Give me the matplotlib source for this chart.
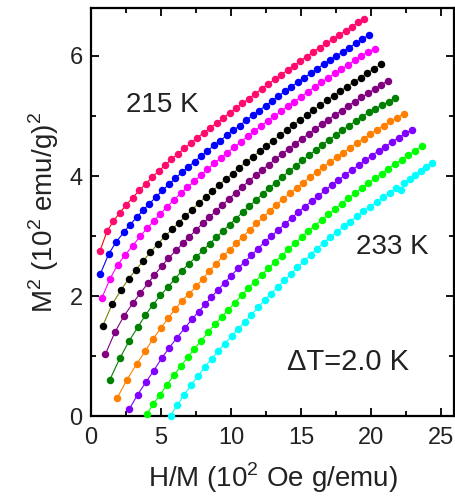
import matplotlib
matplotlib.use("Agg")
import matplotlib.pyplot as plt
from matplotlib.ticker import MultipleLocator

plt.rcParams["font.family"] = ["Liberation Sans", "DejaVu Sans"]
plt.rcParams["mathtext.fontset"] = "custom"
plt.rcParams["mathtext.rm"] = "Liberation Sans"

# Arrott plot isotherms, 215 K to 233 K in 2 K steps
# H/M in 10^2 Oe g/emu, M^2 in (10^2 emu/g)^2
hm_215 = [0.64, 1.14, 1.60, 2.06, 2.52, 2.98, 3.44, 3.90, 4.36, 4.82, 5.28, 5.74, 6.20, 6.66,
          7.12, 7.58, 8.04, 8.50, 8.96, 9.42, 9.88, 10.34, 10.80, 11.26, 11.72, 12.18, 12.64,
          13.10, 13.56, 14.02, 14.48, 14.94, 15.40, 15.86, 16.32, 16.78, 17.24, 17.70, 18.16,
          18.62, 19.08, 19.48]
m2_215 = [2.75, 3.08, 3.25, 3.39, 3.52, 3.64, 3.76, 3.87, 3.98, 4.08, 4.18, 4.28, 4.37, 4.46,
          4.55, 4.64, 4.72, 4.80, 4.88, 4.96, 5.05, 5.13, 5.21, 5.29, 5.37, 5.45, 5.53, 5.61,
          5.69, 5.76, 5.84, 5.92, 5.99, 6.07, 6.14, 6.21, 6.28, 6.35, 6.42, 6.49, 6.56, 6.62]

hm_217 = [0.67, 1.26, 1.79, 2.33, 2.79, 3.25, 3.71, 4.17, 4.63, 5.09, 5.55, 6.01, 6.47, 6.93,
          7.39, 7.85, 8.31, 8.77, 9.23, 9.69, 10.15, 10.61, 11.07, 11.53, 11.99, 12.45, 12.91,
          13.37, 13.83, 14.29, 14.75, 15.21, 15.67, 16.13, 16.59, 17.05, 17.51, 17.97, 18.43,
          18.89, 19.35, 19.81]
m2_217 = [2.37, 2.70, 2.90, 3.06, 3.19, 3.31, 3.43, 3.54, 3.65, 3.76, 3.86, 3.96, 4.06, 4.15,
          4.24, 4.33, 4.42, 4.51, 4.59, 4.68, 4.76, 4.84, 4.93, 5.01, 5.09, 5.17, 5.25, 5.33,
          5.41, 5.49, 5.56, 5.64, 5.71, 5.79, 5.86, 5.93, 6.00, 6.07, 6.14, 6.21, 6.28, 6.35]

hm_219 = [0.76, 1.36, 1.90, 2.45, 2.98, 3.52, 4.00, 4.48, 4.95, 5.43, 5.91, 6.39, 6.87, 7.35,
          7.82, 8.30, 8.78, 9.26, 9.73, 10.21, 10.69, 11.17, 11.65, 12.12, 12.60, 13.08, 13.56,
          14.04, 14.51, 14.99, 15.47, 15.95, 16.43, 16.90, 17.38, 17.86, 18.34, 18.82, 19.29,
          19.77, 20.25]
m2_219 = [1.96, 2.29, 2.52, 2.69, 2.84, 3.00, 3.13, 3.25, 3.37, 3.49, 3.60, 3.71, 3.81, 3.91,
          4.01, 4.11, 4.21, 4.30, 4.39, 4.48, 4.57, 4.66, 4.75, 4.83, 4.92, 5.00, 5.08, 5.16,
          5.24, 5.32, 5.40, 5.48, 5.56, 5.63, 5.71, 5.78, 5.85, 5.93, 6.00, 6.07, 6.12]

hm_221 = [0.83, 1.50, 2.14, 2.69, 3.21, 3.74, 4.24, 4.76, 5.29, 5.77, 6.25, 6.73, 7.21, 7.70,
          8.18, 8.66, 9.14, 9.62, 10.10, 10.58, 11.06, 11.54, 12.02, 12.51, 12.99, 13.47, 13.95,
          14.43, 14.91, 15.39, 15.87, 16.35, 16.83, 17.31, 17.79, 18.28, 18.76, 19.24, 19.72,
          20.20, 20.69]
m2_221 = [1.50, 1.86, 2.10, 2.29, 2.44, 2.59, 2.73, 2.87, 3.00, 3.11, 3.22, 3.33, 3.44, 3.55,
          3.65, 3.75, 3.85, 3.95, 4.04, 4.14, 4.23, 4.32, 4.41, 4.50, 4.59, 4.68, 4.76, 4.85,
          4.93, 5.01, 5.10, 5.18, 5.26, 5.34, 5.42, 5.49, 5.57, 5.64, 5.72, 5.79, 5.86]

hm_223 = [1.02, 1.71, 2.33, 2.98, 3.52, 4.05, 4.52, 5.05, 5.52, 6.07, 6.55, 7.02, 7.49, 7.96,
          8.44, 8.91, 9.38, 9.85, 10.32, 10.80, 11.27, 11.74, 12.21, 12.68, 13.16, 13.63, 14.10,
          14.57, 15.04, 15.52, 15.99, 16.46, 16.93, 17.40, 17.88, 18.35, 18.82, 19.29, 19.76,
          20.24, 20.71, 21.19]
m2_223 = [1.03, 1.40, 1.66, 1.88, 2.05, 2.21, 2.35, 2.50, 2.63, 2.76, 2.88, 2.99, 3.10, 3.21,
          3.31, 3.42, 3.52, 3.62, 3.72, 3.82, 3.92, 4.01, 4.10, 4.19, 4.28, 4.37, 4.45, 4.54,
          4.62, 4.70, 4.78, 4.86, 4.94, 5.02, 5.09, 5.17, 5.24, 5.31, 5.38, 5.45, 5.52, 5.59]

hm_225 = [1.33, 2.07, 2.74, 3.33, 3.88, 4.40, 4.95, 5.48, 6.00, 6.48, 6.98, 7.50, 7.98, 8.46,
          8.93, 9.40, 9.88, 10.35, 10.82, 11.30, 11.77, 12.24, 12.72, 13.19, 13.66, 14.14, 14.61,
          15.08, 15.56, 16.03, 16.50, 16.98, 17.45, 17.92, 18.40, 18.87, 19.34, 19.82, 20.29,
          20.76, 21.24, 21.71]
m2_225 = [0.60, 0.97, 1.26, 1.48, 1.68, 1.85, 2.01, 2.15, 2.29, 2.42, 2.54, 2.65, 2.76, 2.87,
          2.98, 3.08, 3.19, 3.29, 3.40, 3.50, 3.60, 3.70, 3.80, 3.89, 3.99, 4.08, 4.17, 4.26,
          4.35, 4.43, 4.52, 4.60, 4.68, 4.76, 4.84, 4.91, 4.99, 5.06, 5.12, 5.18, 5.24, 5.30]

hm_227 = [1.86, 2.57, 3.26, 3.86, 4.43, 5.00, 5.52, 6.00, 6.48, 7.02, 7.50, 7.98, 8.45, 8.93,
          9.41, 9.88, 10.36, 10.84, 11.32, 11.80, 12.27, 12.75, 13.23, 13.71, 14.19, 14.66, 15.14,
          15.62, 16.10, 16.58, 17.05, 17.53, 18.01, 18.49, 18.97, 19.44, 19.92, 20.40, 20.88,
          21.36, 21.83, 22.31]
m2_227 = [0.30, 0.61, 0.87, 1.08, 1.29, 1.47, 1.64, 1.78, 1.92, 2.04, 2.16, 2.29, 2.42, 2.54,
          2.66, 2.77, 2.88, 2.99, 3.10, 3.21, 3.31, 3.42, 3.52, 3.62, 3.71, 3.80, 3.89, 3.98,
          4.07, 4.15, 4.23, 4.31, 4.39, 4.47, 4.55, 4.62, 4.70, 4.77, 4.84, 4.91, 4.97, 5.04]

hm_229 = [2.74, 3.33, 3.93, 4.48, 5.05, 5.59, 6.14, 6.67, 7.19, 7.67, 8.14, 8.57, 9.05, 9.53,
          10.00, 10.48, 10.96, 11.44, 11.92, 12.39, 12.87, 13.35, 13.83, 14.31, 14.78, 15.26,
          15.74, 16.22, 16.70, 17.17, 17.65, 18.13, 18.61, 19.09, 19.56, 20.04, 20.52, 21.00,
          21.48, 21.95, 22.43, 22.91]
m2_229 = [0.12, 0.36, 0.57, 0.76, 0.97, 1.14, 1.31, 1.46, 1.61, 1.74, 1.86, 1.98, 2.10, 2.22,
          2.34, 2.46, 2.57, 2.68, 2.79, 2.90, 3.00, 3.10, 3.20, 3.30, 3.40, 3.49, 3.58, 3.67,
          3.76, 3.85, 3.93, 4.02, 4.10, 4.18, 4.26, 4.34, 4.42, 4.49, 4.57, 4.64, 4.71, 4.77]

hm_231 = [3.98, 4.45, 4.93, 5.42, 5.91, 6.40, 6.89, 7.38, 7.87, 8.36, 8.84, 9.31, 9.79, 10.26,
          10.74, 11.22, 11.69, 12.17, 12.64, 13.12, 13.60, 14.07, 14.55, 15.02, 15.50, 15.98,
          16.45, 16.93, 17.40, 17.88, 18.36, 18.83, 19.31, 19.78, 20.26, 20.74, 21.21, 21.69,
          22.16, 22.64, 23.12, 23.59]
m2_231 = [0.04, 0.20, 0.36, 0.52, 0.68, 0.83, 0.98, 1.12, 1.26, 1.40, 1.53, 1.65, 1.77, 1.89,
          2.01, 2.13, 2.24, 2.35, 2.46, 2.57, 2.67, 2.78, 2.88, 2.98, 3.08, 3.17, 3.27, 3.36,
          3.45, 3.54, 3.63, 3.71, 3.80, 3.88, 3.96, 4.04, 4.12, 4.20, 4.27, 4.35, 4.42, 4.50]

hm_233 = [5.68, 6.17, 6.66, 7.15, 7.64, 8.13, 8.62, 9.09, 9.56, 10.03, 10.50, 10.97, 11.44,
          11.91, 12.38, 12.85, 13.32, 13.79, 14.26, 14.73, 15.20, 15.67, 16.14, 16.61, 17.08,
          17.55, 18.02, 18.49, 18.96, 19.43, 19.90, 20.37, 20.84, 21.31, 21.78, 22.10, 22.32,
          22.72, 23.12, 23.52, 23.92, 24.32]
m2_233 = [0.01, 0.19, 0.36, 0.52, 0.67, 0.82, 0.96, 1.09, 1.21, 1.33, 1.45, 1.57, 1.69, 1.81,
          1.93, 2.04, 2.15, 2.26, 2.37, 2.48, 2.58, 2.69, 2.79, 2.89, 2.98, 3.07, 3.16, 3.24,
          3.33, 3.41, 3.49, 3.57, 3.65, 3.72, 3.80, 3.76, 3.88, 3.95, 4.02, 4.08, 4.15, 4.22]

hm_curves = [hm_215, hm_217, hm_219, hm_221, hm_223, hm_225, hm_227, hm_229, hm_231, hm_233]
m2_curves = [m2_215, m2_217, m2_219, m2_221, m2_223, m2_225, m2_227, m2_229, m2_231, m2_233]

# marker colour and connecting line colour for each isotherm
dot_colors = ["#ff0a6e", "#0000ff", "#ff00ff", "#000000", "#800080",
              "#008000", "#ff8000", "#8000ff", "#00ff00", "#00ffff"]
line_colors = ["#ff0000", "#0000ff", "#ff00ff", "#808000", "#800080",
               "#008000", "#ff8000", "#8000ff", "#00ff00", "#00ffff"]

fig = plt.figure(figsize=(4.55, 4.96), dpi=100)
ax = fig.add_axes([0.2, 0.161, 0.798, 0.823])

for hm, m2, dc, lc in zip(hm_curves, m2_curves, dot_colors, line_colors):
    ax.plot(hm, m2, "-", color=lc, lw=0.8, marker="o", ms=5.4,
            mfc=dc, mec=dc, mew=0, clip_on=False, zorder=3)

ax.set_xlim(0, 25.9)
ax.set_ylim(0, 6.8)
ax.xaxis.set_major_locator(MultipleLocator(5))
ax.xaxis.set_minor_locator(MultipleLocator(2.5))
ax.yaxis.set_major_locator(MultipleLocator(2))
ax.yaxis.set_minor_locator(MultipleLocator(1))
ax.tick_params(which="both", direction="in", top=True, right=True, width=1.3,
               labelsize=17, labelcolor="#222222")
ax.tick_params(axis="x", pad=8)
ax.tick_params(axis="y", pad=6)
ax.tick_params(which="major", length=6)
ax.tick_params(which="minor", length=3.5)
for spine in ax.spines.values():
    spine.set_linewidth(1.6)

ax.set_xlabel(r"H/M (10$^\mathregular{2}$ Oe g/emu)", fontsize=20, labelpad=8,
              color="#222222")
ax.set_ylabel(r"M$^\mathregular{2}$ (10$^\mathregular{2}$ emu/g)$^\mathregular{2}$",
              fontsize=20, labelpad=6, color="#222222")

ax.text(5.1, 5.18, "215 K", fontsize=20, ha="center", va="center", color="#222222")
ax.text(21.5, 2.82, "233 K", fontsize=20, ha="center", va="center", color="#222222")
ax.text(18.3, 0.91, "\u0394T=2.0 K", fontsize=21, ha="center", va="center", color="#222222")

fig.savefig("out.png", dpi=100)
